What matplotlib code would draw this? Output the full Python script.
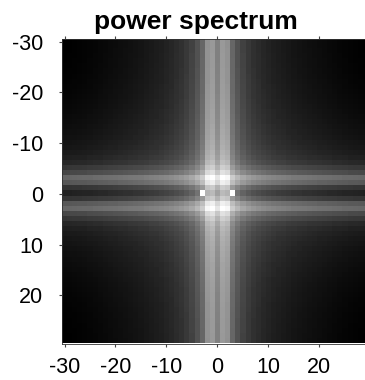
import numpy as np
import matplotlib
matplotlib.use("Agg")
import matplotlib.pyplot as plt

plt.rcParams["font.family"] = ["Liberation Sans", "DejaVu Sans"]
plt.rcParams["axes.unicode_minus"] = False

# spatial-frequency index along each axis
freq = list(range(-30, 30))

# brightness contributed by the horizontal frequency (columns, k = -30..29)
col_profile = [
    0.000, 0.002, 0.005, 0.008, 0.012, 0.017, 0.022, 0.028, 0.034, 0.040,
    0.046, 0.052, 0.058, 0.065, 0.072, 0.080, 0.090, 0.100, 0.110, 0.120,
    0.135, 0.150, 0.170, 0.190, 0.220, 0.260, 0.320, 0.400, 0.570, 0.600,
    0.500,
    0.600, 0.570, 0.400, 0.320, 0.260, 0.220, 0.190, 0.170, 0.150, 0.135,
    0.120, 0.110, 0.100, 0.090, 0.080, 0.072, 0.065, 0.058, 0.052, 0.046,
    0.040, 0.034, 0.028, 0.022, 0.017, 0.012, 0.008, 0.005, 0.002,
]

# brightness contributed by the vertical frequency (rows, k = -30..29)
row_profile = [
    0.000, 0.000, 0.001, 0.002, 0.003, 0.004, 0.006, 0.008, 0.011, 0.014,
    0.017, 0.020, 0.024, 0.028, 0.033, 0.038, 0.044, 0.050, 0.057, 0.065,
    0.075, 0.085, 0.100, 0.120, 0.150, 0.210, 0.280, 0.400, 0.340, 0.200,
    0.130,
    0.200, 0.340, 0.400, 0.280, 0.210, 0.150, 0.120, 0.100, 0.085, 0.075,
    0.065, 0.057, 0.050, 0.044, 0.038, 0.033, 0.028, 0.024, 0.020, 0.017,
    0.014, 0.011, 0.008, 0.006, 0.004, 0.003, 0.002, 0.001, 0.000,
]

# isolated spectral peaks (x, y, value)
peak_x = [-3, 3]
peak_y = [0, 0]
peak_value = [1.0, 1.0]

tick_values = [-30, -20, -10, 0, 10, 20]

col = np.asarray(col_profile)
row = np.asarray(row_profile)
spectrum = np.clip(row[:, None] + col[None, :], 0, 1)
for px, py, pv in zip(peak_x, peak_y, peak_value):
    spectrum[freq.index(py), freq.index(px)] = pv

W, H = 365, 380
fig = plt.figure(figsize=(W / 100, H / 100), dpi=100)
left, right, top, bottom = 62, 367.5, 39, 343.5
ax = fig.add_axes([left / W, 1 - bottom / H, (right - left) / W, (bottom - top) / H])

half = 0.5
ax.imshow(spectrum, cmap="gray", vmin=0, vmax=1, interpolation="nearest",
          aspect="auto",
          extent=(freq[0] - half, freq[-1] + half, freq[-1] + half, freq[0] - half))

ax.set_xticks(tick_values)
ax.set_yticks(tick_values)
ax.tick_params(axis="both", direction="out", length=2.5, width=0.8,
               color="#444444", labelsize=15.5)
ax.tick_params(axis="x", top=True, pad=7.5)
ax.tick_params(axis="y", pad=11)
for s in ax.spines.values():
    s.set_linewidth(0.6)
    s.set_color("#333333")

fig.text(196 / W, 1 - 22 / H, "power spectrum", ha="center", va="center",
         fontsize=19, fontweight="bold")

fig.savefig("out.png", dpi=100)
